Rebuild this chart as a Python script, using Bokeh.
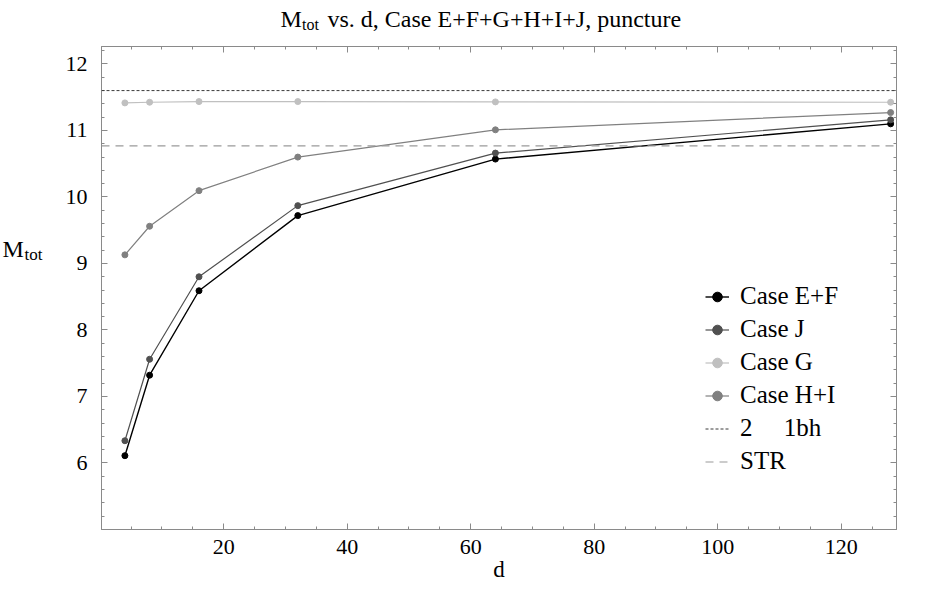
from bokeh.plotting import figure
from bokeh.layouts import column, row
from bokeh.models import Range1d, LinearAxis, Span, Label, Legend, LegendItem, FixedTicker
from bokeh.embed import file_html
from bokeh.resources import INLINE

# ---- data ----
d = [4, 8, 16, 32, 64, 128]
case_ef = [6.11, 7.32, 8.59, 9.72, 10.57, 11.10]
case_j = [6.335, 7.56, 8.80, 9.87, 10.66, 11.16]
case_g = [11.415, 11.425, 11.435, 11.435, 11.43, 11.425]
case_hi = [9.13, 9.56, 10.095, 10.60, 11.01, 11.27]
bh_level = 11.6      # 2 x 1bh
str_level = 10.77    # STR
x_ticks = [20, 40, 60, 80, 100, 120]
y_ticks = [6, 7, 8, 9, 10, 11, 12]
series_names = ["Case E+F", "Case J", "Case G", "Case H+I"]
bh_label = "2\u2003 1bh"
str_label = "STR"
title_main = "M"
title_sub = "tot"
title_rest = "vs. d, Case E+F+G+H+I+J, puncture"
x_label = "d"

FONT = "Liberation Serif"
FRAME = "#8a8a8a"

W, H = 920, 590
TOP_H = 40
LEFT_W = 58


def blank_fig(w, h):
    f = figure(width=w, height=h, output_backend="svg", toolbar_location=None,
               x_range=Range1d(0, w), y_range=Range1d(0, h),
               min_border_left=0, min_border_right=0, min_border_top=0, min_border_bottom=0,
               x_axis_location=None, y_axis_location=None)
    f.grid.visible = False
    f.outline_line_color = None
    f.background_fill_color = "white"
    f.border_fill_color = "white"
    return f


def text_label(x, y, txt, size):
    return Label(x=x, y=y, text=txt, text_font=FONT, text_font_size=size,
                 text_color="black", text_baseline="alphabetic")


# ---- title strip ----
top = blank_fig(W, TOP_H)
top.add_layout(text_label(280, TOP_H - 18.5, title_main, "24px"))
top.add_layout(text_label(301.5, TOP_H - 23.5, title_sub, "16px"))
top.add_layout(text_label(327, TOP_H - 18.5, title_rest, "24px"))

# ---- y-label strip ----
MAIN_H = H - TOP_H
left = blank_fig(LEFT_W, MAIN_H)
left.add_layout(text_label(2, MAIN_H - (271 - TOP_H), title_main, "24px"))
left.add_layout(text_label(24, MAIN_H - (277 - TOP_H), title_sub, "17px"))

# ---- main plot ----
p = figure(width=W - LEFT_W, height=MAIN_H, output_backend="svg", toolbar_location=None,
           x_range=Range1d(0.21, 128.95), y_range=Range1d(5.0, 12.263),
           min_border_left=101 - LEFT_W, min_border_right=W - 896,
           min_border_top=46 - TOP_H, min_border_bottom=H - 529,
           x_axis_location=None, y_axis_location=None)
p.grid.visible = False
p.outline_line_color = FRAME
p.outline_line_width = 1
p.background_fill_color = "white"
p.border_fill_color = "white"

x_minor = [v for v in range(0, 130, 5)]
y_minor = [5 + 0.2 * i for i in range(0, 37)]


def style_axis(ax, labels=True):
    ax.axis_line_color = FRAME
    ax.major_tick_line_color = FRAME
    ax.minor_tick_line_color = FRAME
    ax.major_tick_in = 6
    ax.major_tick_out = 0
    ax.minor_tick_in = 3
    ax.minor_tick_out = 0
    ax.major_label_text_font = FONT
    if labels:
        ax.major_label_text_font_size = "22px"
        ax.major_label_text_color = "black"
    else:
        ax.major_label_text_font_size = "1px"
        ax.major_label_text_color = None
        ax.major_label_standoff = 0


xb = LinearAxis(ticker=FixedTicker(ticks=x_ticks, minor_ticks=x_minor))
style_axis(xb)
xb.major_label_standoff = 10
xb.axis_label = x_label
xb.axis_label_text_font = FONT
xb.axis_label_text_font_size = "23px"
xb.axis_label_text_font_style = "normal"
xb.axis_label_text_color = "black"
xb.axis_label_standoff = 0
p.add_layout(xb, "below")
xt = LinearAxis(ticker=FixedTicker(ticks=x_ticks, minor_ticks=x_minor))
style_axis(xt, labels=False)
p.add_layout(xt, "above")

yl = LinearAxis(ticker=FixedTicker(ticks=y_ticks, minor_ticks=y_minor))
style_axis(yl)
yl.major_label_standoff = 14
p.add_layout(yl, "left")
yr = LinearAxis(ticker=FixedTicker(ticks=y_ticks, minor_ticks=y_minor))
style_axis(yr, labels=False)
p.add_layout(yr, "right")

# reference levels
BH_COLOR, STR_COLOR = "#3a3a3a", "#9a9a9a"
BH_DASH, STR_DASH = "3 2", "8 6"
p.add_layout(Span(location=bh_level, dimension="width", line_color=BH_COLOR,
                  line_width=1, line_dash=BH_DASH))
p.add_layout(Span(location=str_level, dimension="width", line_color=STR_COLOR,
                  line_width=1.2, line_dash=STR_DASH))

series = [case_ef, case_j, case_g, case_hi]
colors = ["#000000", "#505050", "#c0c0c0", "#808080"]
widths = [1.4, 1.2, 1.2, 1.2]
items = []
for name, ys, c, w in zip(series_names, series, colors, widths):
    ln = p.line(d, ys, line_color=c, line_width=w)
    sc = p.scatter(d, ys, size=6, fill_color=c, line_color=c)
    items.append(LegendItem(label=name, renderers=[ln, sc]))

nan = float("nan")
bh_r = p.line(x=[nan, nan], y=[nan, nan], line_color=BH_COLOR, line_width=1, line_dash=BH_DASH)
str_r = p.line(x=[nan, nan], y=[nan, nan], line_color=STR_COLOR, line_width=1.2, line_dash=STR_DASH)
items.append(LegendItem(label=bh_label, renderers=[bh_r]))
items.append(LegendItem(label=str_label, renderers=[str_r]))

legend = Legend(items=items, location=(604, 54), orientation="vertical",
                padding=0, margin=0, spacing=5, glyph_width=24, glyph_height=25,
                label_height=25, label_standoff=11,
                label_text_font=FONT, label_text_font_size="25px", label_text_color="black",
                border_line_color=None, background_fill_alpha=0)
p.add_layout(legend, "center")

layout = column(top, row(left, p, spacing=0), spacing=0)
open("out.html", "w").write(file_html(layout, INLINE))
